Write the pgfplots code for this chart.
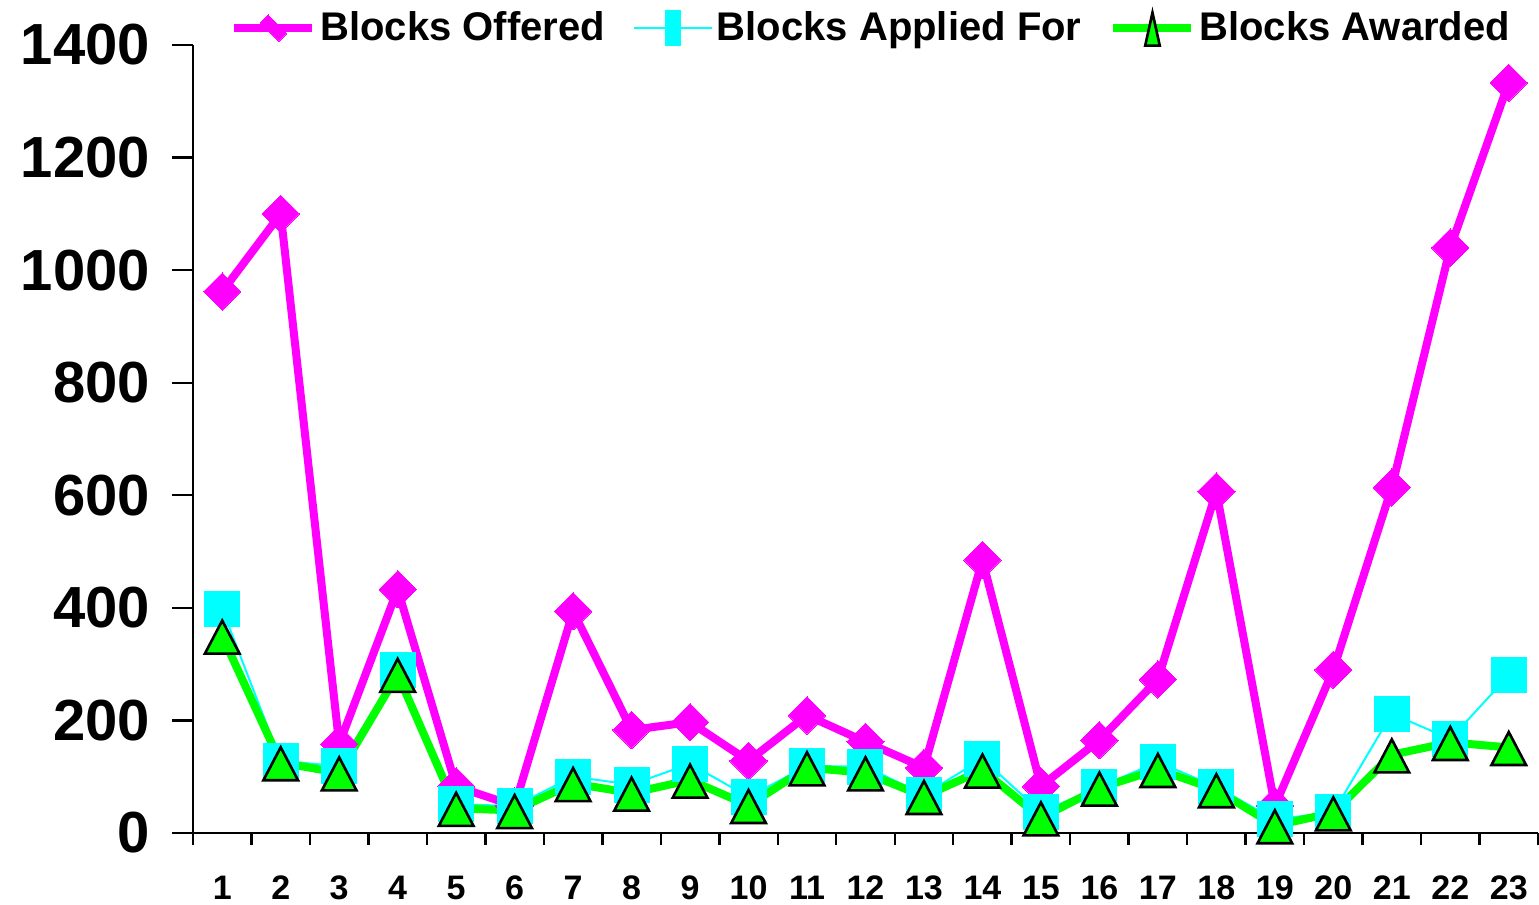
\documentclass[border=0pt]{standalone}
\usepackage{fontspec}
\setmainfont{Liberation Sans}
\usepackage{pgfplots}
\pgfplotsset{compat=1.18}
\definecolor{cMag}{RGB}{255,0,255}
\definecolor{cCyan}{RGB}{0,255,255}
\definecolor{cGreen}{RGB}{0,255,0}
\begin{document}
\begin{tikzpicture}
\begin{axis}[
  scale only axis,
  width=672.5pt, height=394pt,
  xmin=0.5, xmax=23.5,
  ymin=0, ymax=1400,
  clip=false,
  axis x line*=bottom, axis y line*=left,
  axis line style={line width=1.2pt},
  tick align=outside,
  major tick length=6pt,
  xtick={0.5,1.5,...,23.5},
  xticklabels={1,2,3,4,5,6,7,8,9,10,11,12,13,14,15,16,17,18,19,20,21,22,23,{}},
  ytick={0,200,...,1400},
  tick style={line width=1.2pt, black},
  ytick style={/pgfplots/major tick length=10.5pt},
  /pgf/number format/assume math mode=true,
  /pgf/number format/1000 sep={},
  yticklabel style={font=\fontsize{29}{30}\selectfont\bfseries, xshift=-12pt},
  xticklabel style={font=\fontsize{17}{18}\selectfont\bfseries, xshift=14.62pt, yshift=-12pt},
  legend columns=-1,
  legend style={draw=none, fill=none, at={(0.505,1)}, anchor=center, yshift=8.5pt,
    font=\fontsize{20}{22}\selectfont\bfseries,
    /tikz/every even column/.append style={column sep=12pt},
    nodes={inner sep=2pt}},
  legend image code/.code={
    \draw[#1, mark repeat=2, mark phase=2, every mark/.append style={xscale=0.42}]
      plot coordinates {(0pt,0pt) (19.5pt,0pt) (39pt,0pt)};
  },
]
\addplot[cMag, line width=4pt, mark=square*, mark size=6.6pt,
  mark options={rotate=45, fill=cMag, draw=cMag, line width=0pt}]
  coordinates {(1,962) (2,1100) (3,158) (4,433) (5,83) (6,48) (7,394) (8,183)
  (9,197) (10,128) (11,209) (12,162) (13,116) (14,485) (15,83) (16,165) (17,273)
  (18,607) (19,48) (20,290) (21,614) (22,1040) (23,1333)};
\addlegendentry{Blocks Offered}
\addplot[cCyan, line width=1pt, mark=square*, mark size=8.75pt,
  mark options={fill=cCyan, draw=cCyan, line width=0pt}]
  coordinates {(1,398) (2,128) (3,119) (4,289) (5,51) (6,48) (7,100) (8,86)
  (9,123) (10,64) (11,119) (12,118) (13,68) (14,132) (15,37) (16,82) (17,126)
  (18,82) (19,24) (20,37) (21,212) (22,167) (23,280)};
\addlegendentry{Blocks Applied For}
\addplot[cGreen, line width=4pt, mark=triangle*, mark size=10pt,
  mark options={fill=cGreen, draw=black, line width=1.3pt, yscale=1.1, yshift=-3pt}]
  coordinates {(1,350) (2,125) (3,107) (4,282) (5,44) (6,40) (7,88) (8,71)
  (9,94) (10,49) (11,116) (12,107) (13,65) (14,112) (15,27) (16,80) (17,113)
  (18,77) (19,13) (20,36) (21,139) (22,161) (23,152)};
\addlegendentry{Blocks Awarded}
\end{axis}
\pgfresetboundingbox
\path[use as bounding box] (-96.5pt,-36pt) rectangle (673pt,416.5pt);
\end{tikzpicture}
\end{document}
